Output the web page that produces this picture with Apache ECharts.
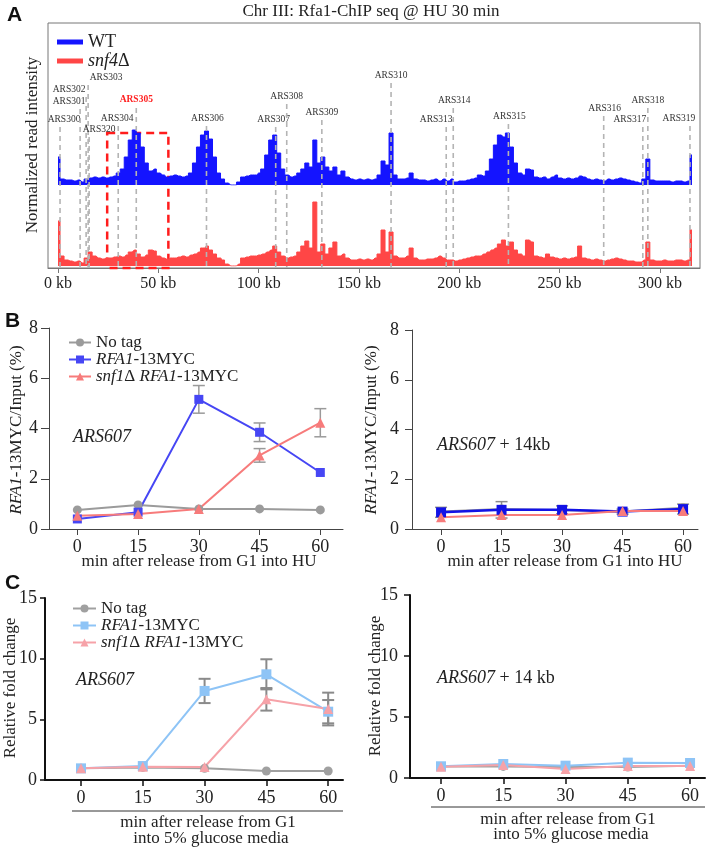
<!DOCTYPE html>
<html><head><meta charset="utf-8">
<script src="https://cdn.jsdelivr.net/npm/echarts@6/dist/echarts.min.js"></script>
<style>html,body{margin:0;padding:0;background:#fff}#c{width:709px;height:850px}</style>
</head><body><div id="c"></div>
<script>
// ===================== DATA =====================
// Panel A: Chr III ChIP-seq tracks, 2 kb bins starting at 0 kb
const binSizeKb = 2;
const wtSignal = [
 28,6,5,5,4,5,3,6,7,8, 7,8,7,8,9,12,16,28,45,55,
 52,38,22,14,16,12,10,8,9,10, 9,8,9,12,22,38,50,54,46,28,
 12,6,2,0,0,3,8,9,10,10, 12,16,30,45,50,32,16,10,8,9,
 12,16,22,18,45,22,28,18,14,18, 10,14,8,6,5,6,5,6,5,6,
 10,24,20,52,10,6,6,7,12,6, 5,5,4,5,6,4,6,4,6,3,
 4,4,5,6,7,10,9,14,26,40, 50,48,52,38,22,12,10,16,15,8,
 7,8,6,8,10,7,6,7,6,7, 9,8,6,5,6,5,4,6,5,6,
 7,6,5,4,3,2,6,26,5,4, 4,4,4,3,4,4,3,4,30
];
const snf4Signal = [
 45,10,6,5,4,5,3,8,14,10, 8,7,8,8,9,10,9,11,14,16,
 12,9,11,16,15,10,8,7,8,8, 9,10,9,11,12,14,18,20,16,12,
 8,6,2,0,0,2,8,9,10,10, 11,12,14,16,20,14,10,8,9,10,
 14,20,25,18,64,14,22,12,18,24, 10,12,8,6,6,7,6,7,6,8,
 12,36,14,34,10,8,8,10,18,8, 6,6,7,7,8,10,8,6,6,5,
 6,7,8,9,10,10,12,14,16,18, 22,26,20,24,16,12,10,26,24,10,
 9,8,12,9,8,7,8,7,8,9, 20,8,7,6,7,6,5,6,7,8,
 7,6,5,5,4,4,6,24,6,5, 5,6,5,5,6,6,5,6,36
];
const arsNames = ['ARS300','ARS301','ARS302','ARS303','ARS320','ARS304','ARS305','ARS306','ARS307','ARS308','ARS309','ARS310','ARS313','ARS314','ARS315','ARS316','ARS317','ARS318','ARS319'];
const arsKb    = [1, 11, 14, 15, 15.5, 30, 39, 74, 108.5, 114, 131.5, 166, 193.5, 197, 224.5, 272, 291.5, 294, 315];
const kbTicks = [0, 50, 100, 150, 200, 250, 300];
const highlightKb = [24.5, 55];

// Panels B & C: time course
const timePoints = [0, 15, 30, 45, 60];
const b1NoTag   = [0.76, 0.96, 0.80, 0.80, 0.76];
const b1Rfa1    = [0.40, 0.67, 5.16, 3.85, 2.25];
const b1Rfa1Err = [0, 0, 0.55, 0.37, 0];
const b1Snf1    = [0.53, 0.60, 0.80, 2.93, 4.23];
const b1Snf1Err = [0, 0, 0, 0.27, 0.56];
const b2NoTag   = [0.70, 0.80, 0.75, 0.70, 0.85];
const b2Rfa1    = [0.67, 0.77, 0.77, 0.70, 0.80];
const b2Rfa1Err = [0.20, 0.33, 0.16, 0.10, 0.20];
const b2Snf1    = [0.47, 0.56, 0.56, 0.72, 0.72];
const c1NoTag   = [0.96, 1.04, 0.96, 0.74, 0.74];
const c1Rfa1    = [0.96, 1.15, 7.34, 8.71, 5.63];
const c1Rfa1Err = [0, 0, 1.00, 1.24, 0.96];
const c1Snf1    = [0.96, 1.10, 1.07, 6.65, 5.85];
const c1Snf1Err = [0, 0, 0, 0.93, 1.35];
const c2NoTag   = [0.95, 0.95, 0.90, 0.90, 1.00];
const c2Rfa1    = [0.96, 1.15, 1.01, 1.26, 1.23];
const c2Snf1    = [0.93, 1.07, 0.74, 0.98, 0.98];

// ===================== LAYOUT / STYLE =====================
const FF = '"Liberation Serif","Times New Roman",serif';
const SANS = '"Liberation Sans",Arial,sans-serif';
const arsLabelY  = [119,101,89,77,129,118,100,118,119,96,112,75,119,100,116,108,119,100,118];
const arsLabelDx = [4,-11,-17,18,10,-1,0,1,-2,0,0,0,-10,1,1,1,-13,0,-11];
const frameTop = 23;

const chart = echarts.init(document.getElementById('c'), null, {renderer:'canvas'});

function errData(vals, errs){
  const out = [];
  timePoints.forEach((t,i)=>{ if (errs[i] > 0) out.push([t, vals[i]-errs[i], vals[i]+errs[i]]); });
  return out;
}
function errSeries(xi, data, color, lw, cap){
  return {type:'custom', xAxisIndex:xi, yAxisIndex:xi, data, z:1, silent:true,
    renderItem:(p, api)=>{
      const x = api.value(0), lo = api.value(1), hi = api.value(2);
      const a = api.coord([x, hi]), b = api.coord([x, lo]);
      const st = {stroke:color, lineWidth:lw};
      return {type:'group', children:[
        {type:'line', shape:{x1:a[0], y1:a[1], x2:b[0], y2:b[1]}, style:st},
        {type:'line', shape:{x1:a[0]-cap, y1:a[1], x2:a[0]+cap, y2:a[1]}, style:st},
        {type:'line', shape:{x1:b[0]-cap, y1:b[1], x2:b[0]+cap, y2:b[1]}, style:st}
      ]};
    }};
}
function lineSeries(name, xi, vals, color, symbol, size, lw){
  return {type:'line', name, xAxisIndex:xi, yAxisIndex:xi,
    data: timePoints.map((t,i)=>[t, vals[i]]),
    symbol, symbolSize:size, showSymbol:true, color,
    lineStyle:{width:lw, color}, itemStyle:{color}, z:3};
}
function trackSeries(name, idx, vals, color){
  return {type:'line', name, xAxisIndex:idx, yAxisIndex:idx, step:'middle', symbol:'none',
    data: vals.map((v,i)=>[i*binSizeKb, v]), color,
    lineStyle:{width:1, color}, areaStyle:{color, opacity:1}, itemStyle:{color}, z:2};
}
function timeXAxis(gi, min, max, thick){
  const c = thick ? '#111' : '#444';
  return {gridIndex:gi, type:'value', min, max, splitLine:{show:false},
    axisLine:{show:true, onZero:false, lineStyle:{color:c, width: thick?2:1}},
    axisTick:{show:true, customValues:timePoints, length:6, lineStyle:{color:c, width: thick?1.5:1}},
    axisLabel:{customValues:timePoints, fontSize:18, fontFamily:FF, color:'#222', margin:9}};
}
function timeYAxis(gi, max, interval, thick, margin, tickLen){
  const c = thick ? '#111' : '#444';
  return {gridIndex:gi, type:'value', min:0, max, interval, splitLine:{show:false},
    axisLine:{show:true, onZero:false, lineStyle:{color:c, width: thick?2:1}},
    axisTick:{show:true, length:tickLen, lineStyle:{color:c, width: thick?1.5:1}},
    axisLabel:{fontSize:18, fontFamily:FF, color:'#222', margin}};
}
function label(text, x, y, opts){
  opts = opts || {};
  const el = {type:'text', x, y, style:{text, font:(opts.italic?'italic ':'')+(opts.size||17)+'px '+FF, fill:'#222',
    textAlign:opts.align||'center', align:opts.align||'center', textVerticalAlign:'middle', verticalAlign:'middle'}};
  if (opts.rotate) el.rotation = Math.PI/2;
  return el;
}
function richLabel(text, x, y, size, rotate, align){
  const el = {type:'text', x, y, style:{text, font:size+'px '+FF, fontSize:size, fontFamily:FF, fill:'#222',
    rich:{i:{fontStyle:'italic', fontSize:size, fontFamily:FF, color:'#222'}},
    textAlign:align||'center', align:align||'center', textVerticalAlign:'middle', verticalAlign:'middle'}};
  if (rotate) el.rotation = Math.PI/2;
  return el;
}

const legendRich = {i:{fontStyle:'italic', fontFamily:FF, fontSize:17, color:'#222'}};
const legendMap = {'No tag':'No tag', 'RFA1-13MYC':'{i|RFA1}-13MYC', 'snf1Δ RFA1-13MYC':'{i|snf1}Δ {i|RFA1}-13MYC'};

const option = {
  animation:false,
  backgroundColor:'#fff',
  grid:[
    {left:48, top:frameTop, width:652, height:245, show:true, borderColor:'#777', borderWidth:1, backgroundColor:'rgba(0,0,0,0)'},
    {left:48, top:125, width:652, height:60},
    {left:48, top:196, width:652, height:70},
    {left:49, top:328, width:294, height:201},
    {left:412, top:330, width:286, height:199},
    {left:45, top:598, width:298, height:182},
    {left:410, top:595, width:295, height:183}
  ],
  xAxis:[
    {gridIndex:0, type:'value', min:-5, max:320, splitLine:{show:false},
     axisLine:{show:true, onZero:false, lineStyle:{color:'#777'}},
     axisTick:{show:true, customValues:kbTicks, length:5, lineStyle:{color:'#777'}},
     axisLabel:{customValues:kbTicks, formatter:v=>v+' kb', fontSize:16, fontFamily:FF, color:'#222', margin:8}},
    {gridIndex:1, type:'value', min:-5, max:320, show:false},
    {gridIndex:2, type:'value', min:-5, max:320, show:false},
    timeXAxis(3, -7, 65.6, false),
    timeXAxis(4, -7.2, 63.7, false),
    timeXAxis(5, -8.74, 63.6, true),
    timeXAxis(6, -7.47, 63.6, true)
  ],
  yAxis:[
    {gridIndex:0, type:'value', min:0, max:245, inverse:true, show:false},
    {gridIndex:1, type:'value', min:0, max:60, show:false},
    {gridIndex:2, type:'value', min:0, max:70, show:false},
    timeYAxis(3, 8, 2, false, 11, 8),
    timeYAxis(4, 8, 2, false, 13, 7),
    timeYAxis(5, 15, 5, true, 8, 5),
    timeYAxis(6, 15, 5, true, 12, 6)
  ],
  legend:[
    {data:['WT','snf4Δ'], left:57, top:33, orient:'vertical', padding:0, itemGap:1,
     icon:'rect', itemWidth:26, itemHeight:5, selectedMode:false,
     formatter:n=> n==='WT' ? 'WT' : '{i|snf4}Δ',
     textStyle:{fontSize:18, fontFamily:FF, color:'#222', rich:{i:{fontStyle:'italic', fontSize:18, fontFamily:FF, color:'#222'}}}},
    {data:['No tag','RFA1-13MYC','snf1Δ RFA1-13MYC'], left:68, top:334, orient:'vertical', padding:0, itemGap:0,
     itemWidth:22, itemHeight:10, selectedMode:false,
     formatter:n=>legendMap[n.trim()],
     textStyle:{fontSize:17, lineHeight:16.5, fontFamily:FF, color:'#222', rich:legendRich}},
    {data:['No tag ','RFA1-13MYC ','snf1Δ RFA1-13MYC '], left:72, top:600, orient:'vertical', padding:0, itemGap:0,
     itemWidth:23, itemHeight:10, selectedMode:false,
     formatter:n=>legendMap[n.trim()],
     textStyle:{fontSize:17, lineHeight:17, fontFamily:FF, color:'#222', rich:legendRich}}
  ],
  series:[
    trackSeries('WT', 1, wtSignal, '#1414ff'),
    trackSeries('snf4Δ', 2, snf4Signal, '#ff4646'),
    {type:'custom', name:'ARS', xAxisIndex:0, yAxisIndex:0, z:4, silent:true,
     data: arsKb.map(k=>[k, 0]),
     renderItem:(p, api)=>{
       const i = p.dataIndex;
       const top = api.coord([api.value(0), 0]);
       const bot = api.coord([api.value(0), 245]);
       const ly = arsLabelY[i];
       const isKey = arsNames[i] === 'ARS305';
       return {type:'group', children:[
         {type:'line', shape:{x1:top[0], y1:ly+8, x2:top[0], y2:bot[1]}, style:{stroke:'#b4b4b4', lineWidth:1.6, lineDash:[5,4]}},
         {type:'text', style:{text:arsNames[i], x:top[0]+arsLabelDx[i], y:ly,
           textAlign:'center', textVerticalAlign:'middle', align:'center', verticalAlign:'middle',
           font:(isKey?'bold ':'')+'9.5px '+FF, fill: isKey ? '#ff2020' : '#333'}}
       ]};
     }},
    {type:'line', name:'highlight', xAxisIndex:0, yAxisIndex:0, data:[], z:5,
     markArea:{silent:true, itemStyle:{color:'rgba(0,0,0,0)', borderColor:'#ff1c1c', borderWidth:2.5, borderType:[8,5]},
       data:[[{xAxis:highlightKb[0], yAxis:110}, {xAxis:highlightKb[1], yAxis:245}]]}},

    errSeries(3, errData(b1Rfa1, b1Rfa1Err), '#9a9a9a', 1.5, 6),
    errSeries(3, errData(b1Snf1, b1Snf1Err), '#9a9a9a', 1.5, 6),
    lineSeries('No tag', 3, b1NoTag, '#9b9b9b', 'circle', 9, 2),
    lineSeries('RFA1-13MYC', 3, b1Rfa1, '#4646f4', 'rect', 9, 2),
    lineSeries('snf1Δ RFA1-13MYC', 3, b1Snf1, '#f77b7b', 'triangle', 10, 2),

    errSeries(4, errData(b2Rfa1, b2Rfa1Err), '#8a8a8a', 1.5, 6),
    lineSeries('No tag', 4, b2NoTag, '#9b9b9b', 'circle', 9, 2),
    lineSeries('RFA1-13MYC', 4, b2Rfa1, '#1212e6', 'rect', 10, 2.5),
    lineSeries('snf1Δ RFA1-13MYC', 4, b2Snf1, '#f77b7b', 'triangle', 10, 2),

    errSeries(5, errData(c1Rfa1, c1Rfa1Err), '#8a8a8a', 2, 6),
    errSeries(5, errData(c1Snf1, c1Snf1Err), '#8a8a8a', 2, 6),
    lineSeries('No tag ', 5, c1NoTag, '#a0a0a0', 'circle', 9, 2),
    lineSeries('RFA1-13MYC ', 5, c1Rfa1, '#8ec4f6', 'rect', 10, 2),
    lineSeries('snf1Δ RFA1-13MYC ', 5, c1Snf1, '#f6a2a8', 'triangle', 10, 2),

    lineSeries('No tag ', 6, c2NoTag, '#a0a0a0', 'circle', 9, 2),
    lineSeries('RFA1-13MYC ', 6, c2Rfa1, '#8ec4f6', 'rect', 10, 2),
    lineSeries('snf1Δ RFA1-13MYC ', 6, c2Snf1, '#f6a2a8', 'triangle', 10, 2)
  ],
  graphic:[
    {type:'text', left:7, top:5, style:{text:'A', font:'bold 21px '+SANS, fill:'#111'}},
    {type:'text', left:5, top:311, style:{text:'B', font:'bold 21px '+SANS, fill:'#111'}},
    {type:'text', left:5, top:573, style:{text:'C', font:'bold 21px '+SANS, fill:'#111'}},
    label('Chr III: Rfa1-ChIP seq @ HU 30 min', 371, 12),
    label('Normalized read intensity', 33, 145, {rotate:true}),
    richLabel('{i|RFA1}-13MYC/Input (%)', 17, 430, 17, true),
    richLabel('{i|RFA1}-13MYC/Input (%)', 372, 430, 17, true),
    label('Relative fold change', 11, 688, {rotate:true}),
    label('Relative fold change', 376, 686, {rotate:true}),
    label('min after release from G1 into HU', 199, 562),
    label('min after release from G1 into HU', 565, 562),
    {type:'line', shape:{x1:72, y1:811, x2:343, y2:811}, style:{stroke:'#333', lineWidth:1}},
    {type:'line', shape:{x1:431, y1:807, x2:705, y2:807}, style:{stroke:'#333', lineWidth:1}},
    label('min after release from G1', 208, 823),
    label('into 5% glucose media', 211, 839),
    label('min after release from G1', 568, 820),
    label('into 5% glucose media', 571, 835),
    label('ARS607', 73, 437, {italic:true, size:18, align:'left'}),
    richLabel('{i|ARS607} + 14kb', 437, 445, 18, false, 'left'),
    label('ARS607', 76, 680, {italic:true, size:18, align:'left'}),
    richLabel('{i|ARS607} + 14 kb', 437, 678, 18, false, 'left')
  ]
};
chart.setOption(option);
</script></body></html>
